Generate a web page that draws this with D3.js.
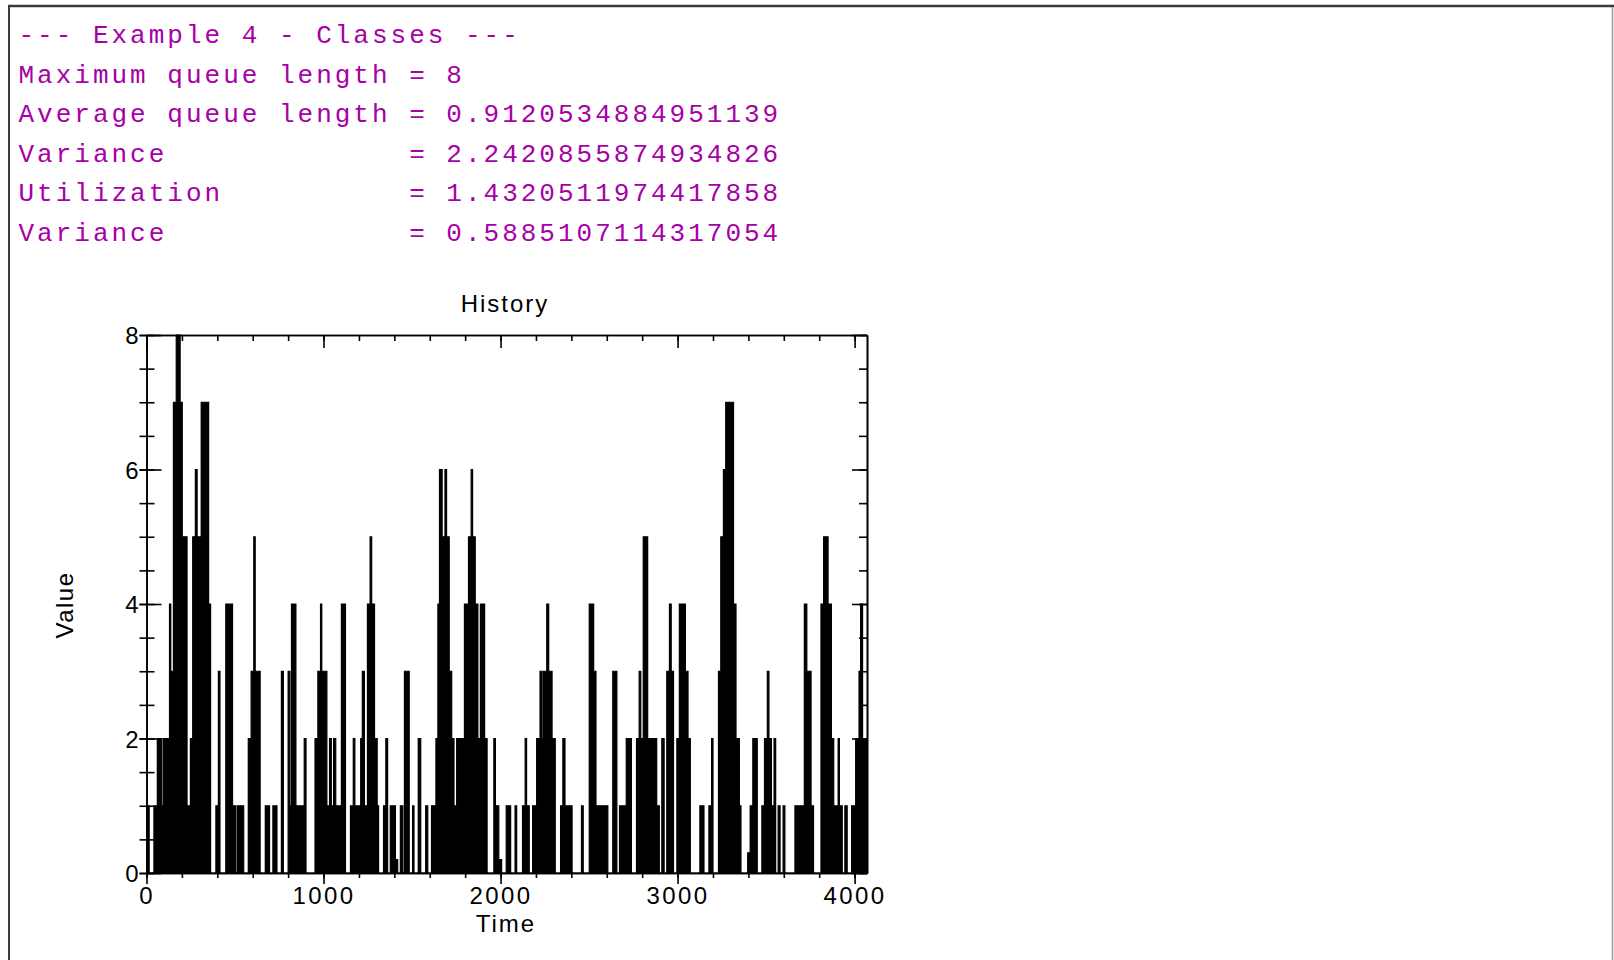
<!DOCTYPE html>
<html>
<head>
<meta charset="utf-8">
<script src="https://cdn.jsdelivr.net/npm/d3@7"></script>
<style>
  html, body { margin: 0; padding: 0; background: #fff; }
  svg { display: block; }
  .mono { font-family: "Liberation Mono", "DejaVu Sans Mono", monospace; white-space: pre; }
  .sans { font-family: "Liberation Sans", Arial, sans-serif; }
</style>
</head>
<body>
<svg id="chart" width="1614" height="960"></svg>
<script>
// ---------- data ----------
const headerLines = [
  "--- Example 4 - Classes ---",
  "Maximum queue length = 8",
  "Average queue length = 0.9120534884951139",
  "Variance             = 2.2420855874934826",
  "Utilization          = 1.4320511974417858",
  "Variance             = 0.5885107114317054"
];
const chartTitle = "History";
const xLabel = "Time";
const yLabel = "Value";

// step-change times of the queue-length history and the value held from each time on
const changeTimes = [0,15,42,61,86,95,130,137,152,168,190,202,229,248,261,276,286,309,351,362,392,406,415,448,486,505,514,549,575,591,606,614,642,671,695,714,737,762,773,800,810,819,844,891,901,952,968,983,990,1019,1034,1044,1057,1069,1101,1124,1152,1168,1177,1210,1219,1231,1248,1263,1272,1288,1303,1311,1339,1352,1362,1377,1406,1419,1434,1448,1457,1484,1503,1511,1535,1549,1577,1589,1610,1635,1646,1655,1670,1686,1695,1710,1724,1737,1752,1796,1819,1834,1842,1857,1872,1886,1910,1924,1962,1971,1990,2006,2032,2057,2082,2091,2124,2139,2147,2162,2181,2204,2223,2234,2242,2261,2272,2291,2309,2339,2352,2364,2404,2457,2467,2501,2526,2539,2606,2634,2657,2672,2710,2739,2768,2783,2792,2806,2831,2853,2859,2882,2897,2911,2924,2939,2954,2964,2977,2996,3010,3044,3059,3072,3126,3149,3177,3192,3200,3231,3244,3259,3272,3316,3330,3349,3358,3396,3410,3425,3450,3476,3491,3507,3516,3530,3545,3554,3568,3579,3596,3606,3663,3716,3730,3754,3768,3810,3825,3850,3869,3882,3907,3914,3930,3945,3958,3983,4006,4025,4034,4045,4070];
const queueValues = [1,0,1,2,1,2,4,3,7,8,7,5,1,2,5,6,5,7,4,0,1,3,0,4,1,0,1,0,2,3,5,3,0,1,0,1,0,3,0,3,1,4,1,2,0,2,3,4,3,1,2,1,2,1,4,0,1,2,1,2,3,1,4,5,4,2,1,0,1,2,0,1,0.2,0,1,0,3,0,1,0,2,0,1,0,1,2,4,6,5,6,5,3,2,1,2,4,5,6,5,4,2,4,2,0,2,1,0.2,0,1,0,1,0,1,2,1,0,1,2,3,2,3,4,3,2,0,1,2,1,0,1,0,4,3,1,0,3,0,1,2,0,2,3,2,5,2,0,2,1,0,2,0,3,4,3,0,2,4,3,2,0,1,0,1,2,0,3,5,6,7,4,2,1,0,0.3,1,2,0,1,2,3,2,1,2,0,1,0,1,0,1,4,3,1,0,4,5,4,2,1,2,1,0,1,0,1,2,3,4,2,2];

const xDomain = [0, 4070];
const yDomain = [0, 8];
const xMajorTicks = [0, 1000, 2000, 3000, 4000];
const xMinorTicks = d3.range(0, 4001, 200);
const yMajorTicks = [0, 2, 4, 6, 8];
const yMinorTicks = d3.range(0, 8.01, 0.5);

// ---------- layout ----------
const svg = d3.select("#chart");
const W = 1614, H = 960;
const plot = { left: 146.5, right: 867, top: 335, bottom: 873 };
const magenta = "#a600a6";

svg.append("rect").attr("width", W).attr("height", H).attr("fill", "#fff");

// page frame
svg.append("line").attr("x1", 8).attr("x2", W).attr("y1", 6).attr("y2", 6)
  .attr("stroke", "#3a3a3a").attr("stroke-width", 2.5);
svg.append("line").attr("x1", 9).attr("x2", 9).attr("y1", 5).attr("y2", H)
  .attr("stroke", "#3a3a3a").attr("stroke-width", 2);
svg.append("line").attr("x1", W - 1.5).attr("x2", W - 1.5).attr("y1", 7).attr("y2", H)
  .attr("stroke", "#9a9a9a").attr("stroke-width", 1.5);

// header text
svg.append("g").selectAll("text").data(headerLines).join("text")
  .attr("class", "mono")
  .attr("x", 18.5)
  .attr("y", (d, i) => 43 + i * 39.6)
  .attr("fill", magenta)
  .attr("font-size", 26)
  .attr("letter-spacing", 3.0)
  .text(d => d);

// scales
const x = d3.scaleLinear().domain(xDomain).range([plot.left, plot.right]);
const y = d3.scaleLinear().domain(yDomain).range([plot.bottom, plot.top]);

const series = changeTimes.map((t, i) => ({ t, v: queueValues[i] }));

// filled step history
const area = d3.area().curve(d3.curveStepAfter)
  .x(d => x(d.t)).y0(y(0)).y1(d => y(d.v));
const line = d3.line().curve(d3.curveStepAfter)
  .x(d => x(d.t)).y(d => y(d.v));

const g = svg.append("g");
g.append("path").datum(series).attr("d", area).attr("fill", "#000");
g.append("path").datum(series).attr("d", line)
  .attr("fill", "none").attr("stroke", "#000").attr("stroke-width", 1.2);

// axes
function styleAxis(sel) {
  sel.selectAll("path.domain").attr("stroke", "#000").attr("stroke-width", 1.6);
  sel.selectAll(".tick line").attr("stroke", "#000").attr("stroke-width", 1.6);
  sel.selectAll(".tick text").attr("class", "sans").attr("fill", "#000")
    .attr("font-size", 24).attr("letter-spacing", 2.4);
}

// bottom axis: minor and major ticks outward
const bMinor = svg.append("g").attr("transform", `translate(0,${plot.bottom})`)
  .call(d3.axisBottom(x).tickValues(xMinorTicks).tickSize(5).tickSizeOuter(0).tickFormat(""));
styleAxis(bMinor);
const bMajor = svg.append("g").attr("transform", `translate(0,${plot.bottom})`)
  .call(d3.axisBottom(x).tickValues(xMajorTicks).tickSize(11).tickSizeOuter(0).tickPadding(3).tickFormat(d3.format("d")));
styleAxis(bMajor);
bMajor.selectAll(".tick text").attr("dy", 0).attr("y", 31);

// top axis: ticks pointing inside
const tMinor = svg.append("g").attr("transform", `translate(0,${plot.top})`)
  .call(d3.axisBottom(x).tickValues(xMinorTicks).tickSize(6).tickSizeOuter(0).tickFormat(""));
styleAxis(tMinor);
const tMajor = svg.append("g").attr("transform", `translate(0,${plot.top})`)
  .call(d3.axisBottom(x).tickValues(xMajorTicks).tickSize(13).tickSizeOuter(0).tickFormat(""));
styleAxis(tMajor);

// left axis: ticks crossing the axis line
const lMinor = svg.append("g").attr("transform", `translate(${plot.left},0)`)
  .call(d3.axisLeft(y).tickValues(yMinorTicks).tickSize(7).tickSizeOuter(0).tickFormat(""));
styleAxis(lMinor);
lMinor.selectAll(".tick line").attr("x1", 8);
const lMajor = svg.append("g").attr("transform", `translate(${plot.left},0)`)
  .call(d3.axisLeft(y).tickValues(yMajorTicks).tickSize(7).tickSizeOuter(0).tickPadding(1).tickFormat(d3.format("d")));
styleAxis(lMajor);
lMajor.selectAll(".tick line").attr("x1", 15);
lMajor.selectAll(".tick text").attr("letter-spacing", 0).attr("dy", "0.36em");

// right axis: ticks pointing inside
const rMinor = svg.append("g").attr("transform", `translate(${plot.right},0)`)
  .call(d3.axisLeft(y).tickValues(yMinorTicks).tickSize(8).tickSizeOuter(0).tickFormat(""));
styleAxis(rMinor);
const rMajor = svg.append("g").attr("transform", `translate(${plot.right},0)`)
  .call(d3.axisLeft(y).tickValues(yMajorTicks).tickSize(15).tickSizeOuter(0).tickFormat(""));
styleAxis(rMajor);

// titles
svg.append("text").attr("class", "sans")
  .attr("x", 505).attr("y", 312).attr("text-anchor", "middle")
  .attr("font-size", 24).attr("letter-spacing", 2).attr("fill", "#000")
  .text(chartTitle);
svg.append("text").attr("class", "sans")
  .attr("x", 506).attr("y", 932).attr("text-anchor", "middle")
  .attr("font-size", 24).attr("letter-spacing", 2).attr("fill", "#000")
  .text(xLabel);
svg.append("text").attr("class", "sans")
  .attr("transform", "translate(73,605) rotate(-90)")
  .attr("text-anchor", "middle")
  .attr("font-size", 24).attr("letter-spacing", 1.5).attr("fill", "#000")
  .text(yLabel);
</script>
</body>
</html>
